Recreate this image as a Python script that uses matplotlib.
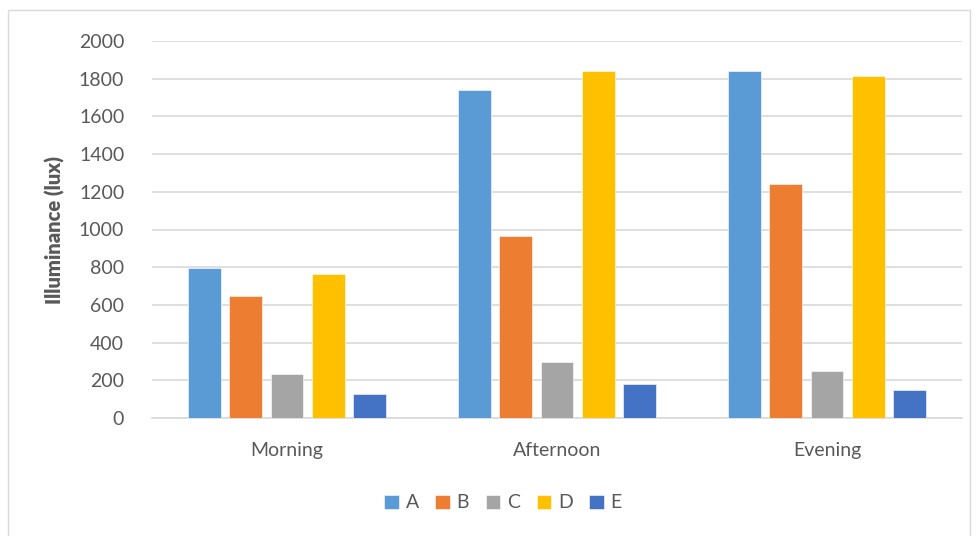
import numpy as np
import matplotlib.pyplot as plt
from matplotlib.patches import Rectangle

categories = ["Morning", "Afternoon", "Evening"]
series_names = ["A", "B", "C", "D", "E"]
values_A = [796, 1742, 1843]
values_B = [646, 968, 1240]
values_C = [232, 296, 248]
values_D = [762, 1839, 1816]
values_E = [129, 182, 147]
yticks = [0, 200, 400, 600, 800, 1000, 1200, 1400, 1600, 1800, 2000]

colors = ["#5B9BD5", "#ED7D31", "#A5A5A5", "#FFC000", "#4472C4"]
text_color = "#595959"
grid_color = "#D9D9D9"

plt.rcParams["font.family"] = ["Lato", "DejaVu Sans"]

fig = plt.figure(figsize=(9.78, 5.36), dpi=100)
fig.patch.set_facecolor("white")
fig.add_artist(Rectangle((8 / 978, -0.01), (970 - 8) / 978, (536 - 10) / 536 + 0.01,
                         transform=fig.transFigure, fill=False,
                         edgecolor="#D9D9D9", linewidth=1.0))

ax = fig.add_axes([152 / 978, 1 - 418 / 536, (962 - 152) / 978, (418 - 41) / 536])

all_series = [values_A, values_B, values_C, values_D, values_E]
x = np.arange(len(categories))
step = 0.153
width = 0.121
for i, (name, vals, col) in enumerate(zip(series_names, all_series, colors)):
    offs = (i - 2) * step
    ax.bar(x + offs, vals, width=width, color=col, label=name, zorder=3,
           edgecolor="white", linewidth=0.4)

ax.set_xlim(-0.5, 2.5)
ax.set_ylim(0, 2000)
ax.set_yticks(yticks)
ax.set_yticklabels([str(t) for t in yticks])
ax.set_xticks(x)
ax.set_xticklabels(categories)
ax.yaxis.grid(True, color=grid_color, linewidth=1.2, zorder=0)
ax.set_axisbelow(True)
for s in ["top", "right", "left"]:
    ax.spines[s].set_visible(False)
ax.spines["bottom"].set_color(grid_color)
ax.spines["bottom"].set_linewidth(1.2)
ax.tick_params(axis="both", length=0, labelsize=14, colors=text_color)
ax.tick_params(axis="y", pad=20)
ax.tick_params(axis="x", pad=17)

ax.set_ylabel("Illuminance (lux)", fontsize=14.5, fontweight="heavy",
              color=text_color, labelpad=10)

leg = fig.legend(loc="center", bbox_to_anchor=(503 / 978, 1 - 503 / 536),
                 ncol=5, frameon=False, fontsize=14, handlelength=0.75,
                 handleheight=0.75, handletextpad=0.35, columnspacing=0.85)
for t in leg.get_texts():
    t.set_color(text_color)

fig.savefig("out.png", dpi=100, facecolor="white")
